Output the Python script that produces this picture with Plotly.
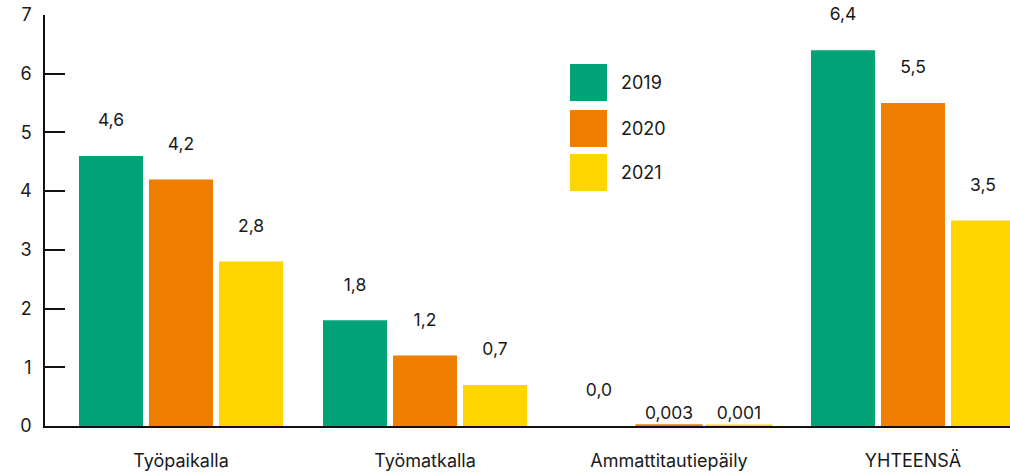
import plotly.graph_objects as go

categories = ["Työpaikalla", "Työmatkalla", "Ammattitautiepäily", "YHTEENSÄ"]
years = ["2019", "2020", "2021"]
values_2019 = [4.6, 1.8, 0.0, 6.4]
values_2020 = [4.2, 1.2, 0.003, 5.5]
values_2021 = [2.8, 0.7, 0.001, 3.5]
series = [values_2019, values_2020, values_2021]
colors = ["#00A276", "#EF7D00", "#FFD500"]
y_ticks = [0, 1, 2, 3, 4, 5, 6, 7]

FONT = "Inter, Lato, sans-serif"
SPACER = "<br> "


def fmt(v):
    s = f"{v:.3f}" if 0 < v < 0.1 else f"{v:.1f}"
    return s.replace(".", ",")


def label(v):
    return fmt(v) if 0 < v < 0.1 else fmt(v) + SPACER


fig = go.Figure()
for name, vals, col in zip(years, series, colors):
    fig.add_trace(go.Bar(
        x=categories, y=vals, name=name,
        marker=dict(color=col,
                    line=dict(color=col, width=[3 if 0 < v < 0.1 else 0 for v in vals])),
        text=[label(v) for v in vals],
        texttemplate="%{text}",
        textposition="outside",
        textfont=dict(family=FONT, size=17.5, color="#1a1a1a"),
        cliponaxis=False,
        showlegend=False,
    ))

W, H = 1010, 474
L, R, T, B = 45, 0, 15, 48
pw, ph = W - L - R, H - T - B


def px(x):
    return (x - L) / pw


def py(y):
    return (H - B - y) / ph


# custom legend (large square keys)
shapes = []
annotations = []
key_tops = [64, 110, 154]
for yr, col, top in zip(years, colors, key_tops):
    shapes.append(dict(type="rect", xref="paper", yref="paper",
                       x0=px(570), x1=px(607), y0=py(top + 37), y1=py(top),
                       fillcolor=col, line=dict(width=0)))
    annotations.append(dict(xref="paper", yref="paper", x=px(619), y=py(top + 18.5),
                            text=yr, showarrow=False, xanchor="left", yanchor="middle",
                            font=dict(family=FONT, size=18, color="#1a1a1a")))

fig.update_layout(
    width=W, height=H,
    margin=dict(l=L, r=R, t=T, b=B, autoexpand=False),
    paper_bgcolor="white", plot_bgcolor="white",
    barmode="group", bargap=0.139, bargroupgap=0.086,
    shapes=shapes, annotations=annotations,
    font=dict(family=FONT, color="#1a1a1a"),
)
fig.update_xaxes(
    type="category", range=[-0.5574, 3.3975], automargin=False,
    showline=True, linecolor="#111111", linewidth=1.5,
    showgrid=False, ticks="", layer="below traces",
    tickfont=dict(family=FONT, size=18, color="#1a1a1a"),
    ticklabelstandoff=18,
)
fig.update_yaxes(
    range=[0, 7], tickvals=y_ticks, ticktext=[str(t) for t in y_ticks],
    automargin=False,
    showline=True, linecolor="#111111", linewidth=1.5,
    ticks="inside", ticklen=20, tickwidth=1.5, tickcolor="#111111",
    showgrid=False, zeroline=False,
    tickfont=dict(family=FONT, size=18, color="#1a1a1a"),
    ticklabelstandoff=8,
)

fig.write_html("out.html", config={"displayModeBar": False},
               post_script="document.body.style.margin='0';")
